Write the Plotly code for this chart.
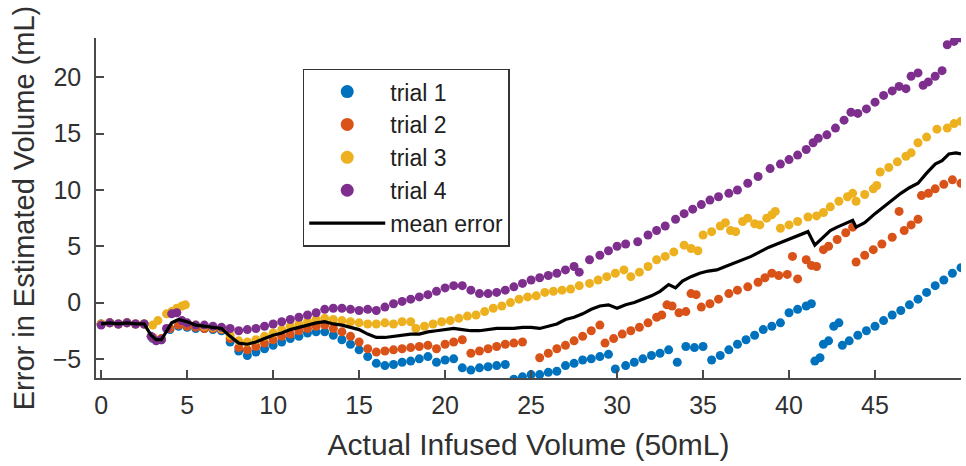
import plotly.graph_objects as go

# ---------------- data ----------------
t1_x = [0, 0.5, 1, 1.5, 2, 2.5, 3.0, 3.5, 4.0, 4.5, 5.0, 5.5, 6.0, 6.5, 7.0, 7.5, 8.0, 8.5, 9.0, 9.5,
        10.0, 10.5, 11.0, 11.5, 12.0, 12.5, 13.0, 13.5, 14.0, 14.5, 15.0, 15.5, 16.0, 16.5, 17.0, 17.5,
        18.0, 18.5, 19.0, 19.5, 20.0, 20.5, 21.0, 21.5, 22.0, 22.5, 23.0, 23.5, 24.0, 24.5, 25.0, 25.5,
        26.0, 26.5, 27.0, 27.5, 28.0, 28.5, 29.0, 29.5, 29.9, 30.5, 31.0, 31.5, 32.0, 32.5, 33.0, 33.5,
        34.0, 34.5, 35.0, 35.5, 36.0, 36.5, 37.0, 37.5, 38.0, 38.5, 39.0, 39.5, 40.0, 40.5, 41.0, 41.3,
        41.5, 41.8, 42.0, 42.3, 42.6, 42.9, 43.1, 43.5, 44.0, 44.5, 45.0, 45.5, 46.0, 46.5, 47.0, 47.5,
        48.0, 48.5, 49.0, 49.5, 50.0]
t1_y = [-1.9, -1.8, -1.9, -1.8, -1.9, -1.9, -3.2, -3.3, -2.4, -2.1, -2.2, -2.3, -2.3, -2.4, -2.5, -3.5, -4.3, -4.7, -4.4, -4.1,
        -3.8, -3.5, -3.2, -3.0, -2.7, -2.6, -2.6, -2.9, -3.3, -3.7, -4.2, -4.8, -5.4, -5.6, -5.5, -5.3,
        -5.2, -5.0, -4.8, -5.3, -5.1, -5.0, -5.8, -6.0, -5.8, -5.7, -5.6, -5.5, -6.8, -6.6, -6.4, -6.4,
        -6.2, -6.1, -5.6, -5.4, -5.1, -5.0, -4.8, -4.6, -5.9, -5.6, -5.3, -5.0, -4.7, -4.5, -4.2, -5.3,
        -3.9, -4.0, -3.9, -5.1, -4.7, -4.2, -3.7, -3.3, -2.9, -2.4, -2.1, -1.8, -0.9, -0.6, -0.3, -0.1,
        -5.2, -4.9, -3.7, -3.4, -2.1, -1.8, -3.8, -3.4, -2.9, -2.5, -2.1, -1.6, -1.1, -0.7, -0.2, 0.3,
        0.9, 1.5, 2.0, 2.6, 3.1]

t2_x = [0, 0.5, 1, 1.5, 2, 2.5, 3.0, 3.5, 4.0, 4.5, 5.0, 5.5, 6.0, 6.5, 7.0, 7.5, 8.0, 8.5, 9.0, 9.5,
        10.0, 10.5, 11.0, 11.5, 12.0, 12.5, 13.0, 13.5, 14.0, 14.5, 15.0, 15.5, 16.0, 16.5, 17.0, 17.5,
        18.0, 18.5, 19.0, 19.5, 20.0, 20.5, 21.0, 21.5, 22.0, 22.5, 23.0, 23.5, 24.0, 24.5, 25.5, 26.0,
        26.5, 27.0, 27.5, 28.0, 28.5, 29.0, 29.3, 29.8, 30.3, 30.8, 31.3, 31.8, 32.3, 32.6, 32.9, 33.2,
        33.6, 34.0, 34.3, 34.6, 34.9, 35.4, 35.9, 36.5, 37.0, 37.6, 38.2, 38.6, 39.0, 39.4, 39.9, 40.2,
        40.5, 41.0, 41.3, 41.6, 42.0, 42.3, 42.8, 43.3, 43.7, 43.9, 44.4, 44.9, 45.4, 46.0, 46.4, 46.7,
        47.1, 47.5, 47.7, 48.1, 48.5, 49.0, 49.5, 50.0]
t2_y = [-1.9, -1.8, -1.9, -1.8, -1.9, -1.9, -3.1, -3.2, -2.3, -2.0, -2.1, -2.2, -2.3, -2.3, -2.4, -3.2, -4.0, -4.2, -3.9, -3.6,
        -3.3, -3.0, -2.8, -2.5, -2.3, -2.1, -2.0, -2.3, -2.6, -3.0, -3.5, -4.1, -4.4, -4.3, -4.2, -4.1,
        -4.0, -3.9, -3.8, -4.1, -3.7, -3.5, -3.3, -4.5, -4.3, -4.1, -3.9, -3.7, -3.6, -3.5, -4.9, -4.5,
        -4.1, -3.8, -3.4, -3.0, -2.5, -2.0, -3.6, -3.2, -2.8, -2.5, -2.2, -1.8, -1.3, -1.1, -0.2, -0.3,
        -0.9, -0.8, 0.8, 0.7, -0.4, -0.1, 0.3, 0.8, 1.1, 1.4, 1.8, 2.2, 2.6, 2.4, 2.5, 4.1,
        2.1, 3.8, 3.3, 3.2, 4.7, 5.0, 5.6, 6.2, 6.7, 3.6, 4.2, 4.7, 5.2, 5.8, 8.1, 6.4,
        6.9, 7.4, 9.5, 9.7, 10.1, 10.5, 10.9, 10.6]

t3_x = [0, 0.5, 1, 1.5, 2, 2.5, 3.0, 3.3, 3.8, 4.1, 4.4, 4.7, 4.9, 5.5, 6.0, 6.5, 7.0, 7.5, 8.0, 8.5,
        9.0, 9.5, 10.0, 10.5, 11.0, 11.5, 12.0, 12.5, 13.0, 13.5, 14.0, 14.5, 15.0, 15.5, 16.0, 16.5,
        17.0, 17.5, 18.0, 18.3, 18.8, 19.3, 19.8, 20.3, 20.8, 21.3, 21.8, 22.3, 22.8, 23.3, 23.8, 24.3,
        24.8, 25.3, 25.8, 26.3, 26.8, 27.3, 27.8, 28.4, 28.9, 29.4, 29.9, 30.4, 30.8, 31.3, 31.8, 32.3,
        32.8, 33.3, 33.9, 34.3, 34.7, 35.0, 35.5, 36.0, 36.3, 36.6, 36.9, 37.3, 37.6, 38.0, 38.3, 38.7,
        39.0, 39.2, 39.5, 40.0, 40.5, 41.1, 41.6, 42.0, 42.4, 42.9, 43.4, 43.7, 43.9, 44.4, 44.9, 45.1,
        45.3, 45.8, 46.3, 46.8, 47.1, 47.5, 48.0, 48.6, 49.2, 49.6, 50.0]
t3_y = [-1.9, -1.8, -1.9, -1.8, -1.9, -1.9, -2.0, -1.6, -1.0, -0.8, -0.5, -0.3, -0.2, -2.0, -2.1, -2.2, -2.3, -2.9, -3.4, -3.5,
        -3.3, -3.0, -2.7, -2.4, -2.1, -1.9, -1.7, -1.5, -1.4, -1.5, -1.6, -1.7, -1.8, -1.9, -1.9, -1.8,
        -1.9, -1.7, -1.7, -2.3, -2.1, -1.9, -1.7, -1.6, -1.4, -1.2, -1.1, -0.8, -0.5, -0.3, 0.0, 0.3,
        0.5, 0.6, 0.9, 1.0, 1.1, 1.2, 1.5, 1.7, 2.0, 2.3, 2.6, 2.9, 2.3, 2.7, 3.2, 3.8,
        4.1, 4.5, 5.1, 4.8, 4.6, 6.0, 6.3, 6.8, 7.1, 6.4, 6.3, 7.2, 7.5, 7.0, 6.9, 7.5,
        7.8, 8.1, 6.6, 6.9, 7.2, 7.6, 7.7, 8.0, 8.5, 9.0, 9.4, 9.7, 9.0, 9.6, 10.1, 10.4,
        11.6, 12.0, 12.5, 13.0, 13.3, 14.2, 14.7, 15.4, 15.5, 15.9, 16.1]

t4_x = [0, 0.5, 1, 1.5, 2, 2.5, 2.9, 3.2, 3.5, 3.8, 4.1, 4.4, 4.7, 5.0, 5.5, 6.0, 6.5, 7.0, 7.5, 8.0,
        8.5, 9.0, 9.5, 10.0, 10.5, 11.0, 11.5, 12.0, 12.5, 13.0, 13.5, 14.0, 14.5, 15.0, 15.5, 16.0,
        16.5, 17.0, 17.5, 18.0, 18.5, 19.0, 19.5, 20.0, 20.5, 21.0, 21.5, 22.0, 22.5, 23.0, 23.5, 24.0,
        24.5, 25.0, 25.5, 26.0, 26.5, 27.0, 27.5, 27.8, 28.4, 29.0, 29.5, 30.0, 30.5, 31.2, 31.8, 32.3,
        32.8, 33.4, 33.9, 34.4, 34.9, 35.4, 35.9, 36.5, 37.0, 37.6, 38.2, 38.9, 39.5, 40.0, 40.5, 41.0,
        41.4, 41.7, 42.2, 42.7, 43.2, 43.6, 44.0, 44.5, 45.0, 45.5, 46.0, 46.4, 46.8, 47.1, 47.5, 47.8,
        48.1, 48.5, 48.9, 49.2, 49.6, 50.0]
t4_y = [-2.0, -1.8, -1.9, -1.8, -1.9, -1.9, -3.0, -3.4, -3.3, -2.3, -1.0, -0.9, -1.6, -1.8, -2.0, -2.0, -2.1, -2.2, -2.3, -2.5,
        -2.4, -2.3, -2.1, -1.9, -1.7, -1.5, -1.3, -1.1, -0.9, -0.6, -0.5, -0.5, -0.6, -0.7, -0.6, -0.7,
        -0.4, -0.1, 0.1, 0.3, 0.5, 0.7, 1.0, 1.3, 1.5, 1.5, 1.1, 0.8, 0.8, 0.9, 1.1, 1.4,
        1.7, 2.0, 2.2, 2.4, 2.6, 2.9, 3.2, 2.7, 3.8, 4.2, 4.6, 5.0, 5.2, 5.4, 6.0, 6.4,
        6.8, 7.4, 7.9, 8.3, 8.7, 9.1, 9.4, 9.7, 10.0, 10.6, 11.2, 11.9, 12.3, 12.7, 13.1, 13.6,
        14.2, 14.6, 14.9, 15.5, 16.2, 16.9, 16.8, 17.2, 17.8, 18.4, 18.8, 19.2, 19.0, 20.1, 20.4, 19.3,
        19.6, 20.1, 20.6, 22.9, 23.2, 23.5]

mean_x = [0, 0.5, 1, 1.5, 2, 2.5, 2.9, 3.2, 3.5, 3.8, 4.1, 4.5, 5.0, 5.5, 6.0, 6.5, 7.0, 7.5, 8.0, 8.5,
          9.0, 9.5, 10.0, 10.5, 11.0, 11.5, 12.0, 12.5, 13.0, 13.5, 14.0, 14.5, 15.0, 15.5, 16.0, 16.5,
          17.0, 17.5, 18.0, 18.5, 19.0, 19.5, 20.0, 20.5, 21.0, 21.5, 22.0, 22.5, 23.0, 23.5, 24.0, 24.5,
          25.0, 25.5, 26.0, 26.5, 27.0, 27.5, 28.0, 28.5, 29.0, 29.5, 30.0, 30.5, 31.0, 31.5, 32.0, 32.5,
          33.0, 33.4, 33.8, 34.3, 34.8, 35.3, 35.8, 36.3, 36.8, 37.3, 37.8, 38.3, 38.8, 39.3, 39.8, 40.2,
          40.7, 41.1, 41.5, 42.0, 42.4, 42.8, 43.3, 43.7, 43.9, 44.4, 45.0, 45.5, 46.0, 46.5, 47.0, 47.5,
          48.0, 48.5, 48.9, 49.3, 49.7, 50.0]
mean_y = [-1.9, -1.8, -1.9, -1.8, -1.9, -1.9, -2.9, -3.3, -3.3, -2.5, -1.8, -1.5, -1.7, -2.0, -2.1, -2.2, -2.3, -3.0, -3.6, -3.7,
          -3.5, -3.2, -2.9, -2.7, -2.4, -2.2, -2.0, -1.8, -1.7, -1.9, -2.0, -2.2, -2.4, -2.8, -3.1, -3.1,
          -3.0, -2.9, -2.8, -2.8, -2.6, -2.5, -2.4, -2.3, -2.4, -2.5, -2.5, -2.4, -2.3, -2.3, -2.3, -2.2,
          -2.2, -2.3, -2.1, -1.9, -1.5, -1.3, -1.0, -0.6, -0.3, -0.2, -0.5, -0.2, 0.0, 0.3, 0.6, 1.0,
          1.6, 1.3, 1.9, 2.3, 2.6, 2.8, 2.9, 3.2, 3.5, 3.8, 4.1, 4.5, 4.9, 5.2, 5.5, 5.7,
          6.0, 6.3, 5.1, 5.8, 6.4, 6.7, 7.0, 7.3, 6.7, 7.1, 7.9, 8.5, 9.1, 9.7, 10.2, 10.6,
          11.5, 12.3, 12.6, 13.2, 13.3, 13.2]

series_names = ["trial 1", "trial 2", "trial 3", "trial 4"]
series_colors = ["#0072BD", "#D95319", "#EDB120", "#7E2F8E"]
x_ticks = [0, 5, 10, 15, 20, 25, 30, 35, 40, 45]
y_ticks = [-5, 0, 5, 10, 15, 20]

# ---------------- figure ----------------
fig = go.Figure()
trials = [(t1_x, t1_y), (t2_x, t2_y), (t3_x, t3_y), (t4_x, t4_y)]
for (xs, ys), name, col in zip(trials, series_names, series_colors):
    fig.add_trace(go.Scatter(x=xs, y=ys, mode="markers", name=name, showlegend=False,
                             marker=dict(color=col, size=9, line=dict(width=0))))
fig.add_trace(go.Scatter(x=mean_x, y=mean_y, mode="lines", name="mean error", showlegend=False,
                         line=dict(color="black", width=3.2)))

# legend entries
for name, col in zip(series_names, series_colors):
    fig.add_trace(go.Scatter(x=[None], y=[None], mode="markers", name=name,
                             marker=dict(color=col, size=13)))
fig.add_trace(go.Scatter(x=[None], y=[None], mode="lines", name="mean error",
                         line=dict(color="black", width=3.2)))

axis_common = dict(showgrid=False, zeroline=False, showline=True, linecolor="#4a4a4a", linewidth=1.5,
                   ticks="inside", ticklen=8, tickwidth=1.5, tickcolor="#4a4a4a",
                   tickfont=dict(family="Liberation Sans, Arial", size=25, color="#303030"),
                   mirror=False)

fig.update_xaxes(range=[-0.3, 50], tickvals=x_ticks, ticklabelstandoff=4,
                 title=dict(text="Actual Infused Volume (50mL)", standoff=16,
                            font=dict(family="Liberation Sans, Arial", size=30, color="#303030")),
                 **axis_common)
fig.update_yaxes(range=[-6.7, 23.5], tickvals=y_ticks, ticklabelstandoff=8,
                 title=dict(text="Error in Estimated Volume (mL)", standoff=10,
                            font=dict(family="Liberation Sans, Arial", size=29, color="#303030")),
                 **axis_common)

fig.update_layout(
    width=966, height=466,
    margin=dict(l=96, r=5, t=38, b=88, autoexpand=False),
    plot_bgcolor="white", paper_bgcolor="white",
    legend=dict(x=0.239, y=0.91, xanchor="left", yanchor="top",
                bgcolor="white", bordercolor="#333333", borderwidth=1.5,
                font=dict(family="Liberation Sans, Arial", size=23, color="#202020"),
                itemwidth=76, tracegroupgap=0),
)

fig.write_html("out.html")
